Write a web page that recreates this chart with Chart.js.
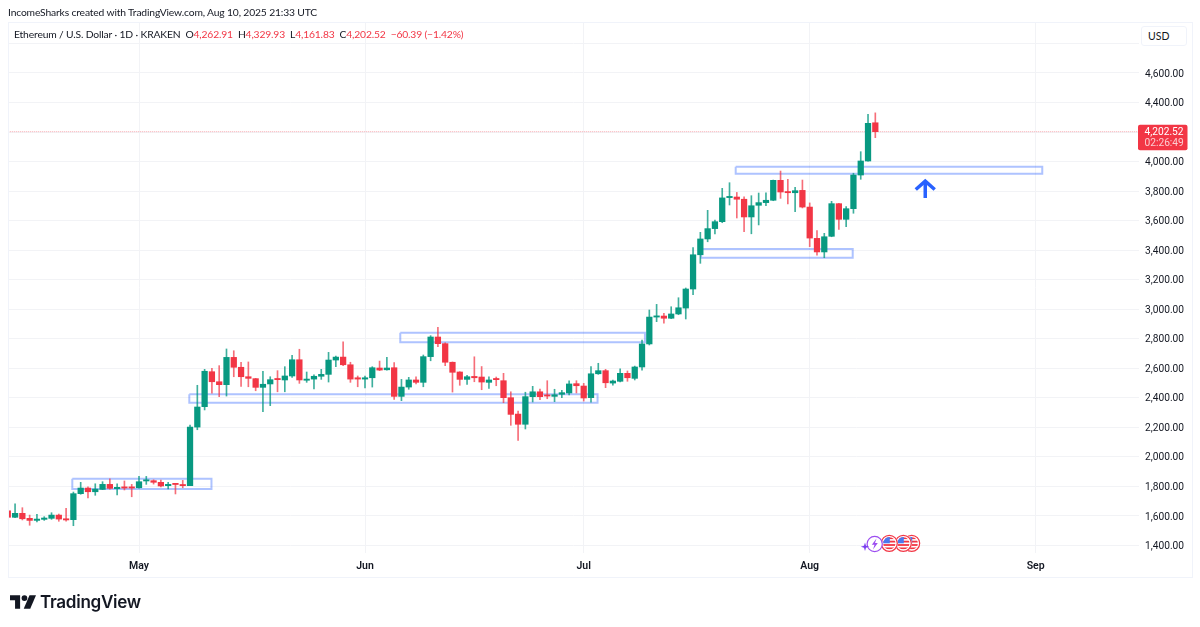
<!DOCTYPE html>
<html><head><meta charset="utf-8">
<script src="https://cdn.jsdelivr.net/npm/chart.js@4"></script>
<style>
html,body{margin:0;padding:0;background:#fff;width:1200px;height:627px;overflow:hidden}
#wrap{position:relative;width:1200px;height:627px;font-family:Lato,"Noto Sans",sans-serif;color:#131722}
canvas{position:absolute;left:0;top:0}
.t{position:absolute;white-space:pre;line-height:14px}
#frame{position:absolute;left:8px;top:22px;width:1183px;height:554px;border:1px solid #f0f3fa;box-sizing:content-box;pointer-events:none}
#usd{position:absolute;left:1141px;top:26px;width:46px;height:20px;background:#fff;border:1px solid #f0f3fa;border-radius:3px;box-sizing:border-box;font-size:10.5px;line-height:18px;padding-left:6px}
.r{color:#F23645}
</style></head><body>
<div id="wrap">
<canvas id="c" width="1200" height="627"></canvas>
<div id="frame"></div>
<div class="t" style="left:8px;top:5px;font-size:10.3px;letter-spacing:-.15px">IncomeSharks created with TradingView.com, Aug 10, 2025 21:33 UTC</div>
<div class="t" style="left:14px;top:27px;font-size:10.3px;letter-spacing:-.15px">Ethereum / U.S. Dollar · 1D · KRAKEN&nbsp;&nbsp;O<span class="r">4,262.91</span>&nbsp;&nbsp;H<span class="r">4,329.93</span>&nbsp;&nbsp;L<span class="r">4,161.83</span>&nbsp;&nbsp;C<span class="r">4,202.52</span>&nbsp;&nbsp;<span class="r">−60.39 (−1.42%)</span></div>
<div id="usd">USD</div>
<svg style="position:absolute;left:10px;top:595px" width="26" height="14" viewBox="0 0 36 19"><path fill="#131722" d="M0 0h14v19H7V7H0z"/><circle cx="20" cy="4" r="4" fill="#131722"/><path fill="#131722" d="M27 0h9l-8 19h-9z"/></svg>
<div class="t" style="left:40px;top:591px;font-size:17.1px;line-height:22px;font-weight:600;font-family:Inter,'Noto Sans',sans-serif;letter-spacing:-.3px">TradingView</div>
</div>
<script>
const opens=[1635,1591,1618,1584,1570,1577,1584,1606,1581,1575,1751,1789,1764,1780,1814,1785,1796,1796,1791,1837,1839,1828,1805,1816,1812,1805,2202,2340,2577,2509,2489,2674,2607,2543,2530,2471,2494,2527,2521,2548,2658,2519,2527,2546,2559,2656,2676,2624,2536,2527,2536,2602,2590,2604,2410,2473,2521,2505,2679,2812,2767,2641,2575,2525,2545,2541,2505,2527,2516,2401,2290,2221,2408,2441,2417,2410,2424,2433,2496,2480,2401,2563,2584,2500,2512,2566,2532,2609,2765,2947,2954,2939,2968,3008,3137,3369,3476,3546,3593,3756,3760,3745,3625,3704,3722,3738,3873,3794,3789,3805,3692,3480,3388,3494,3715,3609,3681,3909,4004,4262.91];
const highs=[1674,1683,1656,1606,1611,1595,1622,1613,1652,1762,1828,1798,1818,1832,1852,1818,1837,1814,1868,1868,1845,1843,1828,1818,1841,2216,2485,2593,2600,2618,2731,2719,2641,2643,2532,2580,2543,2584,2611,2688,2729,2575,2555,2593,2708,2683,2780,2641,2548,2548,2611,2649,2675,2638,2525,2539,2543,2690,2821,2877,2773,2643,2577,2552,2678,2612,2543,2541,2566,2441,2311,2438,2478,2460,2516,2458,2451,2516,2516,2498,2611,2634,2593,2521,2597,2582,2615,2792,2995,3033,2972,3017,3078,3144,3417,3521,3670,3604,3819,3857,3791,3762,3769,3787,3789,3875,3936,3880,3826,3875,3720,3532,3514,3731,3718,3695,3921,4067,4320,4329.93];
const lows=[1586,1589,1573,1537,1559,1570,1577,1564,1564,1534,1747,1722,1740,1778,1782,1742,1776,1730,1789,1814,1816,1796,1784,1749,1791,1805,2184,2318,2431,2408,2412,2543,2478,2475,2448,2306,2347,2441,2441,2539,2498,2505,2460,2525,2507,2611,2618,2505,2475,2467,2473,2584,2588,2390,2381,2458,2494,2475,2651,2746,2618,2439,2485,2491,2509,2455,2463,2482,2367,2214,2112,2189,2372,2387,2394,2374,2401,2419,2433,2378,2370,2559,2469,2485,2507,2512,2521,2588,2758,2916,2905,2936,2963,2934,3098,3311,3457,3510,3586,3706,3618,3525,3511,3571,3701,3735,3751,3713,3661,3686,3424,3367,3349,3491,3541,3559,3650,3880,4002,4161.83];
const closes=[1591,1618,1581,1570,1579,1586,1606,1579,1573,1751,1789,1764,1782,1814,1787,1794,1789,1789,1832,1841,1828,1803,1814,1813,1805,2202,2338,2580,2509,2489,2674,2607,2543,2532,2471,2492,2523,2523,2548,2658,2521,2527,2546,2559,2656,2676,2624,2527,2527,2536,2604,2588,2602,2410,2473,2521,2505,2679,2812,2767,2641,2573,2525,2543,2536,2507,2521,2523,2401,2288,2221,2408,2441,2408,2412,2421,2435,2494,2482,2399,2563,2584,2502,2514,2566,2536,2609,2765,2947,2952,2939,2968,3010,3137,3369,3476,3546,3593,3754,3762,3745,3625,3701,3722,3738,3873,3794,3789,3803,3692,3482,3388,3491,3715,3609,3681,3909,4004,4259,4202.52];

const monthLabels=["May","Jun","Jul","Aug","Sep"];
const monthDays=[18,49,79,110,141];
const priceTicks=[1400,1600,1800,2000,2200,2400,2600,2800,3000,3200,3400,3600,3800,4000,4200,4400,4600,4800];
const hiddenPriceLabels=[4800];
const lastPrice=4202.52;
const countdown="02:26:49";

const boxLeft=[8.85,24.9,53.84,99.85,95.1];
const boxRight=[27.94,80.9,87.4,141.9,115.9];
const boxTop=[1852,2424,2841,3965,3408];
const boxBottom=[1782,2367,2776,3918,3349];
const arrowDays=[124.55,125.85,127.15];
const arrowPrices=[3811,3868,3811];
const arrowBase=3754;

const UP="#089981",DOWN="#F23645",UPW="rgba(8,153,129,0.78)",DOWNW="rgba(242,54,69,0.72)",BOX="rgba(41,98,255,0.38)";
const colors=closes.map((c,i)=>c>=opens[i]?UP:DOWN);
const wickColors=closes.map((c,i)=>c>=opens[i]?UPW:DOWNW);
const datasets=[
 {type:'bar',grouped:false,order:2,data:opens.map((o,i)=>({x:i,y:[lows[i],highs[i]]})),backgroundColor:wickColors,barThickness:1},
 {type:'bar',grouped:false,order:1,data:opens.map((o,i)=>({x:i,y:[o,closes[i]]})),backgroundColor:colors,barThickness:5.6,minBarLength:1.2},
 {type:'line',order:5,data:[{x:0,y:lastPrice},{x:156,y:lastPrice}],borderColor:"#F7A8AF",borderWidth:1,borderDash:[1,1],pointRadius:0}
];
boxLeft.forEach((l,k)=>datasets.push({type:'line',order:4,
 data:[{x:l,y:boxTop[k]},{x:boxRight[k],y:boxTop[k]},{x:boxRight[k],y:boxBottom[k]},{x:l,y:boxBottom[k]},{x:l,y:boxTop[k]}],
 borderColor:BOX,borderWidth:2,backgroundColor:"rgba(41,98,255,0)",pointRadius:0,tension:0,borderJoinStyle:'miter'}));
datasets.push({type:'line',order:0,data:arrowDays.map((d,k)=>({x:d,y:arrowPrices[k]})),borderColor:"#2962FF",borderWidth:3.5,pointRadius:0,tension:0,borderCapStyle:'butt',borderJoinStyle:'miter'});
datasets.push({type:'line',order:0,data:[{x:arrowDays[1],y:arrowPrices[1]},{x:arrowDays[1],y:arrowBase}],borderColor:"#2962FF",borderWidth:3.5,pointRadius:0,borderCapStyle:'butt'});

function flag(ctx,x,y){
 ctx.save();
 ctx.beginPath();ctx.arc(x,y,8.6,0,7);ctx.fillStyle="#fff";ctx.fill();
 ctx.beginPath();ctx.arc(x,y,8,0,7);ctx.strokeStyle="#F23645";ctx.lineWidth=1.2;ctx.stroke();
 ctx.beginPath();ctx.arc(x,y,6.2,0,7);ctx.clip();
 ctx.fillStyle="#fff";ctx.fillRect(x-7,y-7,14,14);
 ctx.fillStyle="#F23645";
 [-6,-2.6,0.8,4.2].forEach(d=>ctx.fillRect(x-7,y+d,14,1.8));
 ctx.fillStyle="#4a78f0";ctx.fillRect(x-7,y-7,7.5,7);
 ctx.restore();
}
const overlay={id:'overlay',afterDraw(ch){
 const ctx=ch.ctx,y=ch.scales.y.getPixelForValue(lastPrice);
 ctx.save();
 ctx.fillStyle="#F23645";
 ctx.beginPath();ctx.roundRect(1138,y-7,49.5,25.5,2);ctx.fill();
 ctx.textBaseline='middle';ctx.textAlign='left';
 ctx.font='10.2px Roboto';ctx.fillStyle="#fff";
 ctx.fillText(lastPrice.toFixed(2).replace('4202','4,202'),1144.5,y+0.3);
 ctx.fillStyle="rgba(255,255,255,0.75)";
 ctx.fillText(countdown,1144.5,y+12);
 flag(ctx,911.7,543.3);flag(ctx,903.3,543.3);flag(ctx,889.3,543.3);
 ctx.beginPath();ctx.arc(874.7,544,7.6,0,7);ctx.fillStyle="#fff";ctx.fill();
 ctx.strokeStyle="#9C4DF0";ctx.lineWidth=1.2;ctx.stroke();
 ctx.fillStyle="#9C4DF0";
 ctx.beginPath();ctx.moveTo(876.5,538.5);ctx.lineTo(871.8,544.8);ctx.lineTo(874.5,544.8);ctx.lineTo(873,549.5);ctx.lineTo(877.8,543);ctx.lineTo(875,543);ctx.closePath();ctx.fill();
 ctx.fillStyle="#7B3FF0";
 ctx.beginPath();ctx.moveTo(865,542.5);ctx.lineTo(866,545.7);ctx.lineTo(869.2,546.7);ctx.lineTo(866,547.7);ctx.lineTo(865,550.9);ctx.lineTo(864,547.7);ctx.lineTo(860.8,546.7);ctx.lineTo(864,545.7);ctx.closePath();ctx.fill();
 ctx.restore();
}};
new Chart(document.getElementById('c'),{
 data:{datasets},
 plugins:[overlay],
 options:{
  responsive:false,animation:false,devicePixelRatio:1,
  layout:{padding:{left:8,top:22,right:0,bottom:50}},
  plugins:{legend:{display:false},tooltip:{enabled:false},title:{display:false}},
  scales:{
   x:{type:'linear',offset:false,min:0.03,max:155.17,
    afterBuildTicks(s){s.ticks=monthDays.map(v=>({value:v}));},
    afterFit(s){s.height=24;},
    grid:{offset:false,color:"#f2f3f6",lineWidth:1,drawTicks:false},border:{display:false},
    ticks:{autoSkip:false,maxRotation:0,padding:7,color:"#131722",font:{family:'Roboto',size:10.5,weight:'600'},
     callback(v){const k=monthDays.indexOf(v);return k<0?'':monthLabels[k];}}},
   y:{type:'linear',position:'right',min:1349.2,max:4945.3,
    afterBuildTicks(s){s.ticks=priceTicks.map(v=>({value:v}));},
    afterFit(s){s.width=61;},
    grid:{color:"#f2f3f6",lineWidth:1,drawTicks:false},border:{display:false},
    ticks:{padding:6,labelOffset:1,color:"#131722",font:{family:'Roboto',size:10.2},
     callback(v){return hiddenPriceLabels.includes(v)?'':v.toLocaleString('en-US',{minimumFractionDigits:2,maximumFractionDigits:2});}}}
  }
 }
});
</script>
</body></html>
